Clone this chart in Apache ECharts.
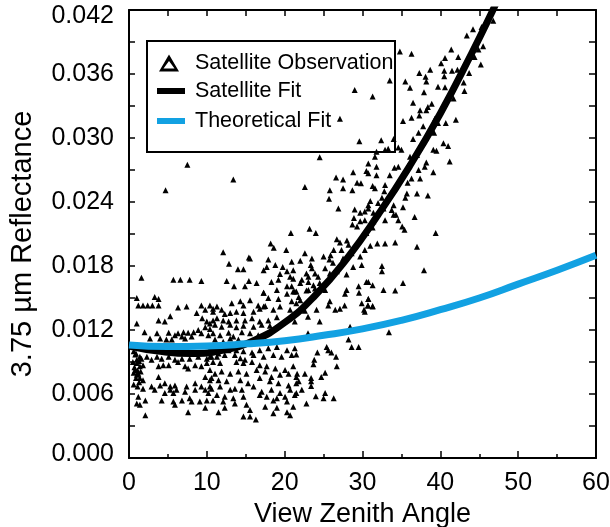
<!DOCTYPE html>
<html>
<head>
<meta charset="utf-8">
<script src="https://cdn.jsdelivr.net/npm/echarts@6/dist/echarts.min.js"></script>
<style>
  html, body { margin: 0; padding: 0; background: #fff; }
  #main { width: 610px; height: 527px; }
</style>
</head>
<body>
<div id="main"></div>
<script>
// view zenith angle (deg) vs 3.75 um reflectance
const observations = [
  // 0 - 11 deg
  [1.0,0.0150],[3.3,0.0151],[3.8,0.0149],[1.2,0.0143],[1.8,0.0143],[2.4,0.0143],[3.0,0.0143],[3.8,0.0143],
  [6.3,0.0141],[7.4,0.0142],[9.3,0.0143],[10.4,0.0143],[10.8,0.0140],[5.3,0.0133],[8.7,0.0136],[9.8,0.0139],
  [3.8,0.0129],[4.6,0.0128],[9.4,0.0131],[10.0,0.0128],[10.4,0.0126],[10.8,0.0129],[1.0,0.0126],
  [2.0,0.0118],[3.6,0.0117],[5.1,0.01175],[5.9,0.0115],[6.3,0.0117],[7.0,0.0118],[7.6,0.01175],[8.3,0.0118],
  [8.9,0.0120],[9.8,0.01225],[10.4,0.0121],[2.7,0.0112],[4.0,0.0112],[4.8,0.0111],[5.5,0.0111],[6.8,0.0114],
  [7.2,0.0112],[8.05,0.0114],[9.3,0.0117],[10.2,0.0115],
  [0.8,0.0097],[1.4,0.0095],[1.0,0.0092],[1.6,0.0093],[2.3,0.0095],[2.9,0.0092],[3.6,0.0095],[4.2,0.0093],
  [5.1,0.0095],[5.9,0.0092],[6.8,0.0093],[7.8,0.0093],[8.9,0.0095],[10.0,0.0093],[10.6,0.0095],
  [1.0,0.0089],[1.4,0.0086],[0.8,0.00825],[1.2,0.0079],[1.8,0.0087],[3.8,0.0086],[4.4,0.0087],[5.1,0.0087],
  [6.3,0.0090],[7.2,0.0086],[7.6,0.0084],[8.5,0.0087],[9.3,0.0086],[10.0,0.0089],
  [0.6,0.0100],[0.9,0.0098],[0.5,0.0090],[1.3,0.0091],[0.7,0.0085],[1.1,0.0082],[0.6,0.0080],[1.5,0.0081],
  [0.9,0.0075],[1.3,0.0071],[0.6,0.0069],[1.1,0.0067],
  [1.0,0.0078],[1.4,0.0075],[1.8,0.0073],[3.8,0.0076],[9.8,0.0076],[10.4,0.0073],
  [4.0,0.0068],[4.6,0.0070],[5.3,0.0067],[5.9,0.0068],[7.4,0.0067],[8.5,0.0070],[9.3,0.0067],[10.6,0.0065],
  [1.8,0.0065],[2.9,0.0067],[3.3,0.0064],[4.6,0.0061],[5.3,0.0064],[5.7,0.0061],[6.1,0.0064],[7.2,0.0062],
  [8.5,0.0064],[9.8,0.0064],[10.2,0.0061],
  [1.2,0.00575],[2.1,0.0054],[4.2,0.0054],[5.7,0.0053],[6.8,0.0054],[7.8,0.0056],[8.05,0.0053],[9.1,0.0053],
  [10.0,0.0054],[1.0,0.0051],[1.4,0.0050],[5.9,0.0050],[9.8,0.0047],[2.1,0.0040],[7.6,0.0043],
  // 10 - 22 deg
  [17.3,0.0155],[20.3,0.0154],[21.3,0.0156],[17.9,0.0150],[19.2,0.0149],[21.8,0.0151],
  [13.2,0.0145],[14.3,0.0147],[14.7,0.0143],[15.55,0.0148],[16.6,0.0143],[17.3,0.0142],[20.9,0.0147],[21.5,0.0145],
  [11.3,0.0142],[10.8,0.0137],[11.9,0.0139],[12.3,0.0135],[13.0,0.0136],[13.8,0.0137],[14.7,0.0136],[16.0,0.0137],
  [16.8,0.0140],[17.5,0.01425],[18.55,0.0139],[19.4,0.0142],[20.7,0.0139],
  [11.3,0.0131],[12.1,0.0129],[12.8,0.0128],[13.8,0.0129],[14.9,0.0129],[15.8,0.0131],[16.8,0.0128],[17.9,0.0129],[19.0,0.0132],
  [11.05,0.0125],[11.9,0.0123],[13.0,0.0125],[13.8,0.01225],[14.7,0.0124],[16.0,0.0123],[17.05,0.0125],[18.1,0.0124],
  [10.8,0.0117],[11.7,0.0115],[12.8,0.01175],[13.4,0.0114],[14.5,0.0118],[15.55,0.0117],[16.6,0.0115],
  [11.05,0.0111],[12.1,0.0109],[13.0,0.0112],[14.05,0.0111],
  [10.4,0.0102],[11.5,0.0098],[12.8,0.0101],[13.8,0.0101],[14.7,0.0100],[15.8,0.0099],[16.8,0.0101],[17.9,0.0103],
  [19.0,0.0104],[20.3,0.0101],[21.3,0.0103],
  [10.4,0.0095],[11.3,0.0095],[12.3,0.00966],[13.6,0.00966],[14.3,0.00934],[14.9,0.0092],[16.0,0.00966],[17.3,0.0095],
  [18.55,0.00966],[19.6,0.0095],[20.9,0.00966],
  [10.8,0.0090],[11.7,0.0089],[13.8,0.0090],[14.7,0.0089],[15.8,0.0090],[16.8,0.0087],[17.7,0.0086],[18.8,0.0084],
  [20.05,0.00825],[21.1,0.0086],
  [10.4,0.00825],[11.05,0.0079],[11.9,0.0081],[13.0,0.0079],[14.05,0.0081],[15.1,0.0079],[16.4,0.00825],[17.5,0.0081],
  [18.3,0.0076],[19.4,0.0078],[20.5,0.0079],
  [10.6,0.0075],[11.5,0.0073],[12.55,0.0072],[14.3,0.0073],[15.3,0.0070],[16.8,0.0075],[18.1,0.0072],[19.2,0.0070],
  [20.5,0.0068],[21.5,0.0070],
  [10.4,0.0067],[11.7,0.0067],[13.0,0.0064],[13.6,0.0065],[14.5,0.0064],[16.0,0.0067],[17.05,0.0062],[18.3,0.0064],
  [19.4,0.0061],[20.7,0.0064],
  [11.3,0.0059],[12.3,0.00575],[13.4,0.0056],[14.7,0.00575],[16.8,0.0059],[17.7,0.00575],[19.0,0.0056],[20.05,0.00575],[21.3,0.0059],
  [10.8,0.0054],[12.1,0.0053],[13.6,0.0051],[15.1,0.0050],[18.55,0.0054],[20.3,0.0053],
  [12.3,0.0047],[15.55,0.0045],[17.5,0.0048],[19.0,0.0047],[20.3,0.0043],[21.1,0.0048],
  [14.7,0.0039],[15.55,0.0039],[18.55,0.0042],[20.7,0.0040],[11.5,0.0043],[16.3,0.0036],
  // 21 - 31 deg, lower part
  [21.5,0.0156],[22.8,0.0157],[27.75,0.0154],[29.55,0.0155],[22.0,0.0148],[30.75,0.0149],
  [25.8,0.0147],[25.6,0.0143],[27.7,0.0143],[29.9,0.0145],[30.7,0.0143],[31.3,0.01425],
  [22.6,0.0138],[24.1,0.0139],[26.5,0.0139],[27.1,0.0140],[30.2,0.0139],
  [21.3,0.0128],[24.5,0.0128],[23.0,0.01325],[28.4,0.0123],[23.0,0.0117],[28.2,0.0111],
  [28.6,0.0104],[29.5,0.0104],[25.4,0.0104],[25.6,0.0101],[26.0,0.0099],[26.6,0.0095],[26.7,0.0086],
  [24.2,0.0099],[21.5,0.0097],[23.8,0.0092],[23.7,0.0088],[25.2,0.0080],[24.7,0.0076],
  [21.6,0.0079],[22.6,0.0079],[21.5,0.0076],[21.8,0.0072],[23.4,0.0075],[23.4,0.0072],[23.4,0.00675],
  [22.2,0.0064],[21.5,0.0061],[25.2,0.0061],[24.0,0.0058],[25.0,0.0056],[26.3,0.0056],[22.8,0.0051],
  // 15 - 31 deg, upper part
  [24.5,0.0282],[28.8,0.0268],[30.5,0.0269],[26.6,0.0263],[27.5,0.0261],[29.3,0.0258],[29.8,0.02575],
  [22.6,0.0254],[25.8,0.0251],[27.5,0.0253],[28.7,0.0251],[25.7,0.0243],
  [26.9,0.0234],[29.0,0.0233],[29.7,0.0230],[30.3,0.0231],[30.75,0.0237],
  [28.9,0.0225],[28.7,0.0219],[29.3,0.0217],[29.7,0.0222],[30.3,0.0223],
  [20.8,0.0211],[23.2,0.0215],[24.0,0.0211],[26.7,0.0205],[27.1,0.0202],[28.0,0.0204],[28.2,0.0200],
  [18.2,0.0201],[18.6,0.0197],[20.2,0.0195],
  [22.6,0.0192],[26.3,0.0195],[25.9,0.0190],[27.3,0.0195],[27.5,0.0187],[28.6,0.0192],[29.7,0.0189],[30.3,0.0195],
  [15.55,0.0187],[17.9,0.0186],[17.7,0.0179],[18.8,0.0181],[19.75,0.0179],[20.9,0.0184],[22.0,0.0185],[23.5,0.0187],
  [23.35,0.0181],[25.0,0.0189],[25.75,0.0186],[26.2,0.0183],
  [17.3,0.0176],[19.4,0.01725],[20.3,0.0175],[21.1,0.0176],[23.5,0.0178],[23.9,0.0173],[24.3,0.0170],[25.2,0.0178],
  [25.8,0.0173],[26.7,0.0175],[27.95,0.0172],[28.8,0.0179],[29.9,0.0181],
  [16.4,0.0164],[18.3,0.0165],[19.2,0.0167],[20.7,0.0170],[21.1,0.0168],[22.2,0.0167],[22.8,0.0173],[23.05,0.0170],
  [20.3,0.0161],[20.9,0.0161],[22.0,0.0164],[23.05,0.0165],[23.7,0.0162],[24.5,0.0164],[17.3,0.0155],[19.0,0.01575],
  [21.1,0.0156],[23.05,0.01575],[23.9,0.0159],[25.2,0.01575],[27.95,0.01575],[29.5,0.0161],[30.5,0.0165],
  // 0 - 16 deg, upper part
  [7.5,0.0275],[4.7,0.0251],[13.4,0.0261],[12.1,0.0193],[15.4,0.0188],[12.85,0.0182],[14.0,0.0177],[14.7,0.0177],
  [1.6,0.0169],[5.7,0.0167],[6.6,0.0167],[7.8,0.0167],[9.3,0.0166],[12.55,0.0166],[15.4,0.0166],[13.5,0.0161],[14.9,0.0161],
  // 27 - 47 deg
  [29.0,0.0345],[27.1,0.0318],[29.6,0.0297],
  [46.8,0.0410],[45.3,0.0404],[44.2,0.0402],[43.4,0.0396],[45.5,0.0386],[44.9,0.0383],[41.4,0.0383],
  [34.8,0.0381],[36.3,0.0379],[42.3,0.0376],[43.9,0.0376],[44.4,0.0376],[45.2,0.0369],[40.6,0.0375],[40.1,0.0370],[43.2,0.0370],
  [38.7,0.0364],[37.3,0.0361],[40.5,0.0363],[41.5,0.0363],[42.2,0.0364],[43.7,0.0361],[38.1,0.03575],[40.5,0.0358],
  [33.5,0.0354],[35.5,0.0353],[38.2,0.0353],[43.0,0.0352],[36.1,0.0347],[37.9,0.0343],[39.7,0.0348],[40.6,0.03475],
  [43.1,0.0344],[41.7,0.0337],[31.3,0.0339],
  [36.5,0.0333],[38.9,0.0332],[38.4,0.0329],[37.4,0.0326],[38.2,0.0326],
  [36.3,0.0319],[35.2,0.0316],[37.3,0.0321],[39.3,0.0318],[39.7,0.0314],[40.7,0.0314],[42.0,0.0317],
  [37.8,0.0311],[37.2,0.0305],[38.5,0.0306],[39.2,0.0305],[32.4,0.0298],[34.0,0.0299],[36.5,0.0299],
  [40.4,0.0295],[41.0,0.02925],[39.1,0.0289],[39.5,0.0288],[41.2,0.0278],
  [31.8,0.0287],[32.9,0.0289],[33.3,0.0290],[34.6,0.0291],[35.0,0.0289],
  [31.6,0.02825],[36.1,0.02825],[37.0,0.0284],[30.75,0.0276],[31.8,0.0273],[34.6,0.0273],[34.1,0.0272],[35.9,0.0275],
  [37.2,0.0270],[38.2,0.0277],[38.0,0.0273],[39.1,0.0268],[30.75,0.0267],[31.8,0.0265],[33.5,0.0265],[36.3,0.0262],[37.4,0.0262],
  // 30 - 40 deg, lower part
  [32.9,0.0256],[31.3,0.0255],[31.6,0.0253],[35.8,0.0258],[35.7,0.0248],[37.0,0.0248],[38.4,0.0246],
  [32.5,0.0244],[35.5,0.0244],[32.8,0.0250],[31.0,0.0241],[32.0,0.0239],[30.75,0.0234],[31.4,0.0230],[32.7,0.0234],
  [34.0,0.0237],[33.75,0.02325],[34.0,0.0228],[34.3,0.0228],[35.2,0.0235],[36.7,0.0226],[34.6,0.0223],[32.9,0.0223],
  [31.4,0.0222],[35.1,0.0217],[35.4,0.0214],[31.3,0.0216],[30.5,0.0211],[39.4,0.0211],
  [31.0,0.0199],[31.9,0.0201],[32.9,0.0201],[34.2,0.0202],[37.0,0.0198],[32.5,0.0180],[32.5,0.0175],[37.9,0.0176],
  [30.75,0.0165],[31.3,0.0162],[35.2,0.0164],[32.7,0.01575],[34.2,0.0157],
  [30.75,0.0149],[30.7,0.0143],[31.3,0.0142],[30.3,0.0137],[33.4,0.0118]
];

// fitted curves, sampled off the figure
const satFitX = [0, 4, 8, 12, 16, 20, 24, 28, 32, 36, 40, 44, 46.5, 47.5];
const satFitY = [0.0105, 0.0100, 0.0098, 0.0101, 0.0110, 0.0127, 0.0153, 0.0187, 0.0228, 0.0273, 0.0323, 0.0379, 0.0416, 0.0432];
const theoFitX = [0, 5, 10, 15, 20, 25, 30, 35, 40, 45, 50, 55, 60];
const theoFitY = [0.0106, 0.01045, 0.0105, 0.0107, 0.0110, 0.0115, 0.0121, 0.0129, 0.0139, 0.0150, 0.0163, 0.0176, 0.0190];

const xTicks = { min: 0, max: 60, step: 10 };
const yTicks = { min: 0, max: 0.042, step: 0.006 };

const font = "'Liberation Sans', Arial, Helvetica, sans-serif";
const blue = '#12a1e2';

const zip = (xs, ys) => xs.map((x, i) => [x, ys[i]]);

const chart = echarts.init(document.getElementById('main'));

const axisLine = { show: true, onZero: false, lineStyle: { color: '#000', width: 2 } };

chart.setOption({
  backgroundColor: '#fff',
  animation: false,
  grid: { left: 129, right: 14, top: 10, bottom: 69, containLabel: false, outerBoundsMode: 'none' },
  xAxis: [
    {
      type: 'value', min: xTicks.min, max: xTicks.max, interval: xTicks.step,
      name: 'View Zenith Angle', nameLocation: 'middle', nameGap: 31,
      nameTextStyle: { fontFamily: font, fontSize: 27, color: '#000' },
      axisLine: axisLine,
      axisTick: { inside: true, length: 7, lineStyle: { color: '#000', width: 1.5 } },
      minorTick: { show: true, splitNumber: 2, length: 4, lineStyle: { color: '#000', width: 1.5 } },
      axisLabel: { fontFamily: font, fontSize: 25, color: '#000', margin: 13 },
      splitLine: { show: false }
    },
    {
      type: 'value', position: 'top', min: xTicks.min, max: xTicks.max, interval: 5,
      axisLine: axisLine,
      axisTick: { inside: true, length: 6, lineStyle: { color: '#000', width: 1.5 } },
      axisLabel: { show: false },
      splitLine: { show: false }
    }
  ],
  yAxis: [
    {
      type: 'value', min: yTicks.min, max: yTicks.max, interval: yTicks.step,
      name: '3.75 µm Reflectance', nameLocation: 'middle', nameGap: 92, nameRotate: 90,
      nameTextStyle: { fontFamily: font, fontSize: 29, color: '#000', padding: [0, 20, 0, 0] },
      axisLine: axisLine,
      axisTick: { inside: true, length: 6, lineStyle: { color: '#000', width: 1.5 } },
      minorTick: { show: true, splitNumber: 2, length: 6, lineStyle: { color: '#000', width: 1.5 } },
      axisLabel: {
        fontFamily: font, fontSize: 25, color: '#000', margin: 15, lineHeight: 12,
        verticalAlignMinLabel: 'bottom', verticalAlignMaxLabel: 'top',
        formatter: v => (v === 0 ? '{b|' + v.toFixed(3) + '}' : v.toFixed(3)),
        rich: { b: { fontFamily: font, fontSize: 25, color: '#000', lineHeight: 8 } }
      },
      splitLine: { show: false }
    },
    {
      type: 'value', position: 'right', min: yTicks.min, max: yTicks.max, interval: 0.003,
      axisLine: axisLine,
      axisTick: { inside: true, length: 7, lineStyle: { color: '#000', width: 1.5 } },
      axisLabel: { show: false },
      splitLine: { show: false }
    }
  ],
  legend: [
    {
      data: [{ name: 'Satellite Observation', icon: 'path://M10,0 L20,17 L0,17 Z M10,6.5 L4.5,14 L15.5,14 Z' }],
      left: 154, top: 46, itemWidth: 42, itemHeight: 17, selectedMode: false,
      textStyle: { fontFamily: font, fontSize: 21.5, color: '#000', lineHeight: 24 }
    },
    {
      data: [
        { name: 'Satellite Fit', icon: 'path://M0,0 L28,0 L28,6 L0,6 Z' },
        { name: 'Theoretical Fit', icon: 'path://M0,0 L28,0 L28,6 L0,6 Z' }
      ],
      orient: 'vertical', left: 152, top: 74, itemWidth: 38, itemHeight: 6, itemGap: 6, selectedMode: false,
      textStyle: { fontFamily: font, fontSize: 21.5, color: '#000', lineHeight: 24 }
    }
  ],
  graphic: [{
    type: 'rect', z: 100,
    shape: { x: 147, y: 41, width: 248, height: 111 },
    style: { fill: 'none', stroke: '#000', lineWidth: 2 }
  }],
  series: [
    {
      name: 'Satellite Observation', type: 'scatter', data: observations,
      symbol: 'triangle', symbolSize: 6,
      itemStyle: { color: '#000', opacity: 1 }
    },
    {
      name: 'Satellite Fit', type: 'line', data: zip(satFitX, satFitY),
      smooth: true, showSymbol: false, z: 3,
      lineStyle: { color: '#000', width: 7 }, itemStyle: { color: '#000' }
    },
    {
      name: 'Theoretical Fit', type: 'line', data: zip(theoFitX, theoFitY),
      smooth: true, showSymbol: false, z: 4,
      lineStyle: { color: blue, width: 7 }, itemStyle: { color: blue }
    }
  ]
});
</script>
</body>
</html>
